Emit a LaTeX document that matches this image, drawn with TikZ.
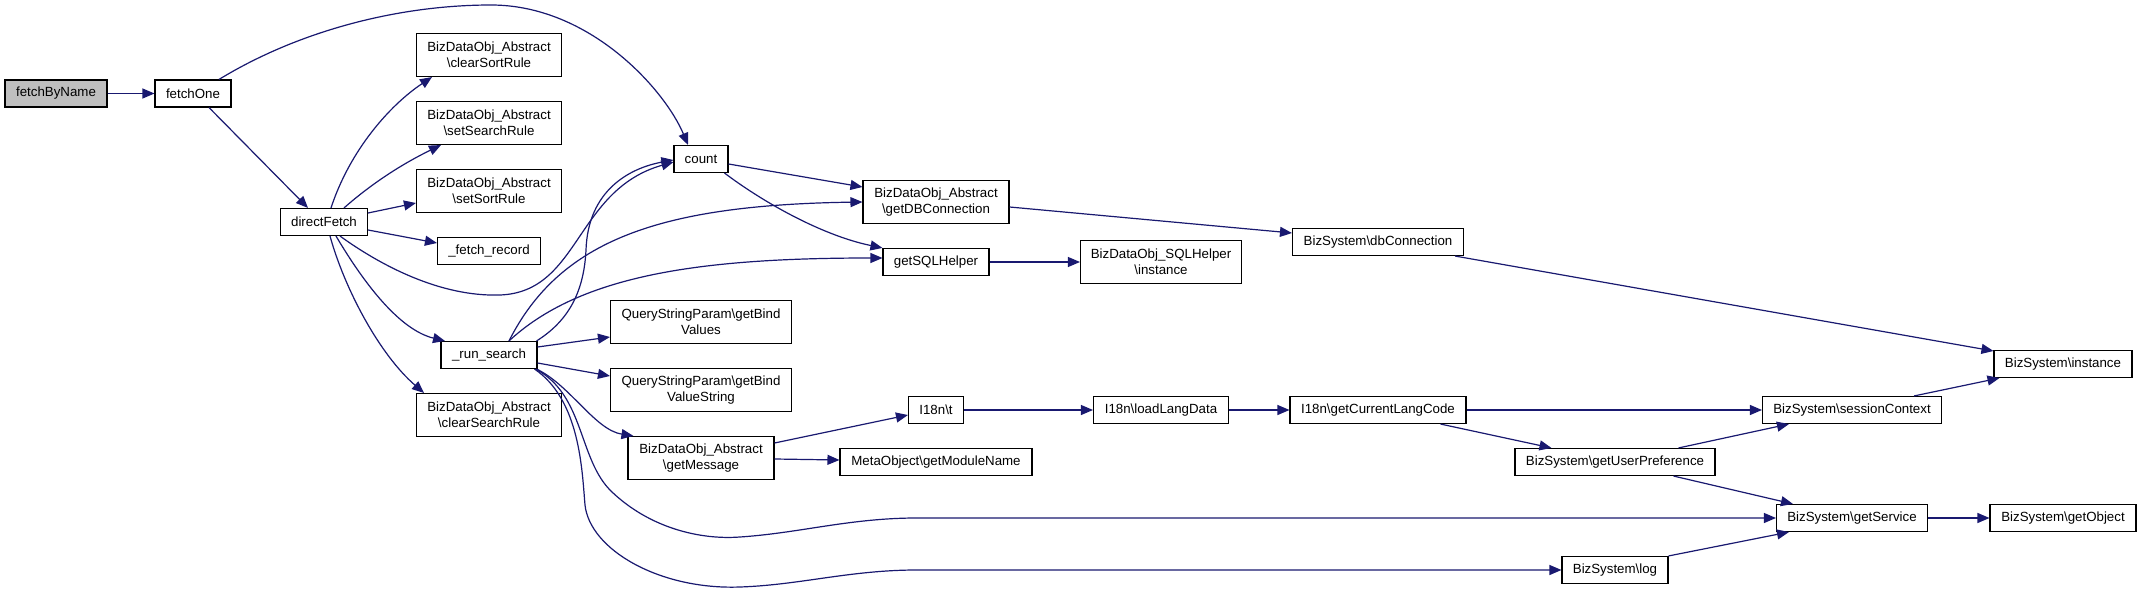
\documentclass[tikz,border=0pt]{standalone}
\usepackage{fontspec}
\setmainfont{Liberation Sans}
\usetikzlibrary{arrows.meta,calc}
\definecolor{edgeblue}{RGB}{25,25,112}
\definecolor{startgray}{RGB}{191,191,191}
\newcommand\BSL{\textbackslash}
\begin{document}
\begin{tikzpicture}[x=1bp,y=-1bp,
  box/.style={draw=black, line width=1.1bp, fill=white, inner sep=0pt, align=center,
    minimum height=27bp, font=\fontsize{13.3bp}{16bp}\selectfont},
  tall/.style={minimum height=43bp},
  call/.style={draw=edgeblue, line width=1.2bp, -{Triangle[length=12bp,width=10bp]}, color=edgeblue}]
\fill[white] (0,0) rectangle (2141,595);
\useasboundingbox (0,0) rectangle (2141,595);

% nodes
\node[box, fill=startgray, minimum width=102bp] (fetchByName) at (56,93.5) {fetchByName};
\node[box, minimum width=76bp] (fetchOne) at (193,93.5) {fetchOne};
\node[box, tall, minimum width=145bp] (clearSortRule) at (489,55) {BizDataObj\_Abstract\\\BSL clearSortRule};
\node[box, tall, minimum width=145bp] (setSearchRule) at (489,123) {BizDataObj\_Abstract\\\BSL setSearchRule};
\node[box, tall, minimum width=145bp] (setSortRule) at (489,191) {BizDataObj\_Abstract\\\BSL setSortRule};
\node[box, minimum width=87bp] (directFetch) at (324,222) {directFetch};
\node[box, minimum width=103bp] (fetchRecord) at (489,251) {\_fetch\_record};
\node[box, minimum width=96bp] (runSearch) at (489,355) {\_run\_search};
\node[box, tall, minimum width=145bp] (clearSearchRule) at (489,415) {BizDataObj\_Abstract\\\BSL clearSearchRule};
\node[box, minimum width=54bp] (count) at (701,159) {count};
\node[box, tall, minimum width=146bp] (getDBConnection) at (936,202) {BizDataObj\_Abstract\\\BSL getDBConnection};
\node[box, minimum width=106bp] (getSQLHelper) at (936,262) {getSQLHelper};
\node[box, tall, minimum width=161bp] (sqlInstance) at (1161,262) {BizDataObj\_SQLHelper\\\BSL instance};
\node[box, tall, minimum width=181bp] (qspValues) at (701,322) {QueryStringParam\BSL getBind\\Values};
\node[box, tall, minimum width=181bp] (qspValueString) at (701,390) {QueryStringParam\BSL getBind\\ValueString};
\node[box, tall, minimum width=146bp] (getMessage) at (701,458) {BizDataObj\_Abstract\\\BSL getMessage};
\node[box, minimum width=55bp] (i18nT) at (936,410) {I18n\BSL t};
\node[box, minimum width=192bp] (moduleName) at (936,462) {MetaObject\BSL getModuleName};
\node[box, minimum width=135bp] (loadLangData) at (1161,410) {I18n\BSL loadLangData};
\node[box, minimum width=171bp] (dbConnection) at (1378,242) {BizSystem\BSL dbConnection};
\node[box, minimum width=176bp] (langCode) at (1378,410) {I18n\BSL getCurrentLangCode};
\node[box, minimum width=200bp] (userPref) at (1615,462) {BizSystem\BSL getUserPreference};
\node[box, minimum width=179bp] (sessionContext) at (1852,410) {BizSystem\BSL sessionContext};
\node[box, minimum width=138bp] (bizInstance) at (2063,364) {BizSystem\BSL instance};
\node[box, minimum width=151bp] (getService) at (1852,518) {BizSystem\BSL getService};
\node[box, minimum width=146bp] (getObject) at (2063,518) {BizSystem\BSL getObject};
\node[box, minimum width=106bp] (log) at (1615,570) {BizSystem\BSL log};

% edges
\draw[call] (fetchByName.east) -- (fetchOne.west);
\draw[call] ($(fetchOne.north)+(26,0)$) .. controls (300,30) and (400,5) .. (491,5)
  .. controls (590,5) and (665,90) .. ($(count.north)+(-13,0)$);
\draw[call] ($(fetchOne.south)+(16,0)$) -- ($(directFetch.north)+(-16,0)$);
\draw[call] ($(directFetch.north)+(7,0)$) .. controls (350,150) and (390,105) .. ($(clearSortRule.south)+(-57,0)$);
\draw[call] ($(directFetch.north)+(20,0)$) .. controls (370,185) and (400,165) .. ($(setSearchRule.south)+(-48,0)$);
\draw[call] ($(directFetch.east)+(0,-9)$) -- ($(setSortRule.west)+(0,12)$);
\draw[call] ($(directFetch.east)+(0,8)$) -- ($(fetchRecord.west)+(0,-8)$);
\draw[call] ($(directFetch.south)+(16,0)$) .. controls (380,265) and (440,297) .. (500,295)
  .. controls (580,292) and (575,190) .. ($(count.west)+(0,3)$);
\draw[call] ($(directFetch.south)+(12,0)$) .. controls (365,285) and (400,330) .. ($(runSearch.north)+(-44,0)$);
\draw[call] ($(directFetch.south)+(6,0)$) .. controls (345,290) and (380,355) .. ($(clearSearchRule.north)+(-65,0)$);

\draw[call] ($(runSearch.north east)+(-1,0)$) .. controls (570,320) and (584,290) .. (586,250)
  .. controls (588,190) and (630,168) .. ($(count.west)+(0,1)$);
\draw[call] ($(runSearch.north)+(20,0)$) .. controls (560,240) and (660,205) .. (getDBConnection.west);
\draw[call] ($(runSearch.north)+(20,0)$) .. controls (580,275) and (700,258) .. ($(getSQLHelper.west)+(0,-4)$);
\draw[call] ($(runSearch.east)+(0,-8)$) -- ($(qspValues.west)+(0,15)$);
\draw[call] ($(runSearch.east)+(0,8)$) -- ($(qspValueString.west)+(0,-14)$);
\draw[call] ($(runSearch.south east)+(-1,0)$) .. controls (570,385) and (595,430) .. ($(getMessage.north west)+(6,0)$);
\draw[call] ($(runSearch.south east)+(-2,0)$) .. controls (585,395) and (578,460) .. (612,492)
  .. controls (650,528) and (700,540) .. (740,537)
  .. controls (800,533) and (850,518) .. (917,518) -- (getService.west);
\draw[call] ($(runSearch.south east)+(-3,0)$) .. controls (580,400) and (582,470) .. (585,505)
  .. controls (590,550) and (660,590) .. (740,587)
  .. controls (800,585) and (850,570) .. (917,570) -- (log.west);

\draw[call] ($(count.east)+(0,5)$) -- ($(getDBConnection.west)+(0,-15)$);
\draw[call] ($(count.south east)+(-4,0)$) .. controls (760,200) and (820,235) .. (getSQLHelper.north west);
\draw[call] ($(getDBConnection.east)+(0,5)$) -- ($(dbConnection.west)+(0,-9)$);
\draw[call] (getSQLHelper.east) -- (sqlInstance.west);
\draw[call] ($(dbConnection.south east)+(-9,0)$) -- ($(bizInstance.west)+(0,-13)$);
\draw[call] ($(getMessage.east)+(0,-15)$) -- ($(i18nT.west)+(0,5)$);
\draw[call] ($(getMessage.east)+(0,1)$) -- ($(moduleName.west)+(0,-2)$);
\draw[call] (i18nT.east) -- (loadLangData.west);
\draw[call] (loadLangData.east) -- (langCode.west);
\draw[call] (langCode.east) -- (sessionContext.west);
\draw[call] ($(langCode.south east)+(-26,0)$) -- ($(userPref.north west)+(37,0)$);
\draw[call] ($(userPref.north east)+(-37,0)$) -- ($(sessionContext.south west)+(27,0)$);
\draw[call] ($(sessionContext.north east)+(-28,0)$) -- ($(bizInstance.south west)+(6,0)$);
\draw[call] ($(userPref.south east)+(-42,0)$) -- ($(getService.north west)+(17,0)$);
\draw[call] (getService.east) -- (getObject.west);
\draw[call] (log.north east) -- ($(getService.south west)+(13,0)$);
\end{tikzpicture}
\end{document}
